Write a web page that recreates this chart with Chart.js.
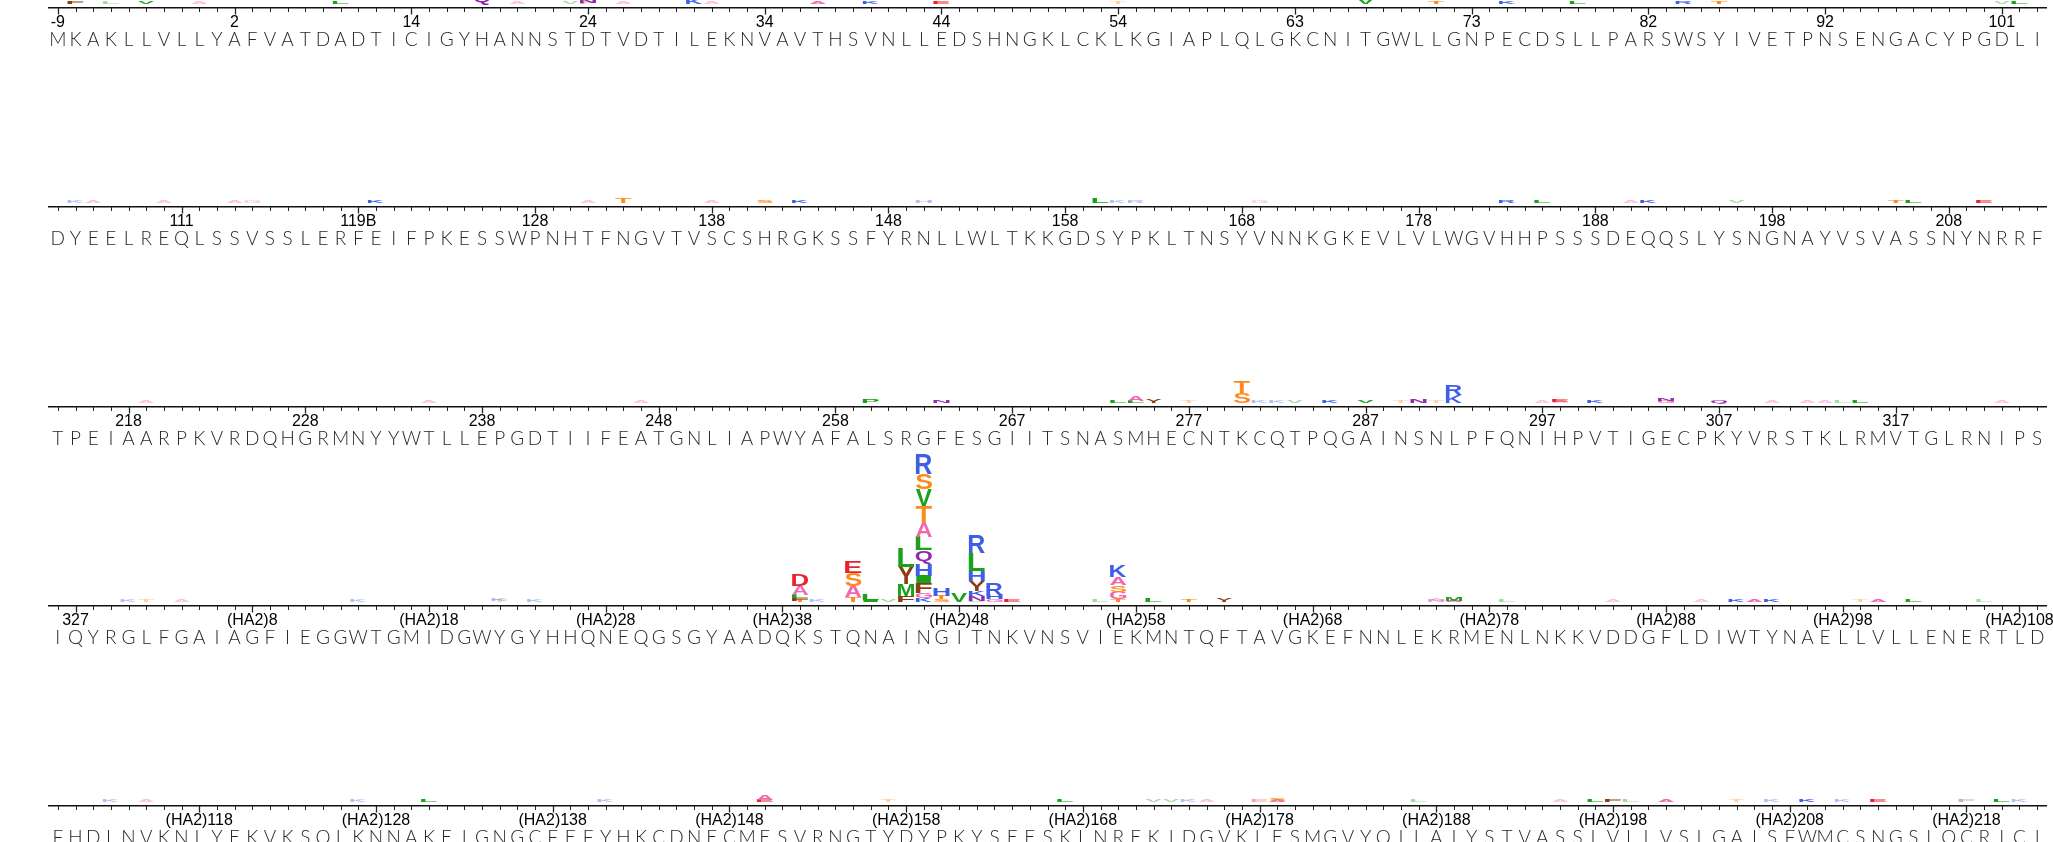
<!DOCTYPE html>
<html>
<head>
<meta charset="utf-8">
<script src="https://cdn.jsdelivr.net/npm/chart.js@4.4.1/dist/chart.umd.min.js"></script>
<style>
  html, body { margin: 0; padding: 0; background: #ffffff; width: 2053px; height: 842px; overflow: hidden; }
  .row { position: absolute; left: 0; width: 2053px; height: 215px; }
  canvas { display: block; }
</style>
</head>
<body>
<div id="rows"></div>
<script>
// ---------------- DATA ----------------
// Sequence letters per row (one per position)
const row1Seq = "MKAKLLVLLYAFVATDADTICIGYHANNSTDTVDTILEKNVAVTHSVNLLEDSHNGKLCKLKGIAPLQLGKCNITGWLLGNPECDSLLPARSWSYIVETPNSENGACYPGDLI";
const row2Seq = "DYEELREQLSSVSSLERFEIFPKESSWPNHTFNGVTVSCSHRGKSSFYRNLLWLTKKGDSYPKLTNSYVNNKGKEVLVLWGVHHPSSSDEQQSLYSNGNAYVSVASSNYNRRF";
const row3Seq = "TPEIAARPKVRDQHGRMNYYWTLLEPGDTIIFEATGNLIAPWYAFALSRGFESGIITSNASMHECNTKCQTPQGAINSNLPFQNIHPVTIGECPKYVRSTKLRMVTGLRNIPS";
const row4Seq = "IQYRGLFGAIAGFIEGGWTGMIDGWYGYHHQNEQGSGYAADQKSTQNAINGITNKVNSVIEKMNTQFTAVGKEFNNLEKRMENLNKKVDDGFLDIWTYNAELLVLLENERTLD";
const row5Seq = "FHDLNVKNLYEKVKSQLKNNAKEIGNGCFEFYHKCDNECMESVRNGTYDYPKYSEESKLNREKIDGVKLESMGVYQILAIYSTVASSLVLLVSLGAISFWMCSNGSLQCRICI";

// Numbering tick labels: [position index, label]
const row1Ticks = [[0,"-9"],[10,"2"],[20,"14"],[30,"24"],[40,"34"],[50,"44"],[60,"54"],[70,"63"],[80,"73"],[90,"82"],[100,"92"],[110,"101"]];
const row2Ticks = [[7,"111"],[17,"119B"],[27,"128"],[37,"138"],[47,"148"],[57,"158"],[67,"168"],[77,"178"],[87,"188"],[97,"198"],[107,"208"]];
const row3Ticks = [[4,"218"],[14,"228"],[24,"238"],[34,"248"],[44,"258"],[54,"267"],[64,"277"],[74,"287"],[84,"297"],[94,"307"],[104,"317"]];
const row4Ticks = [[1,"327"],[11,"(HA2)8"],[21,"(HA2)18"],[31,"(HA2)28"],[41,"(HA2)38"],[51,"(HA2)48"],[61,"(HA2)58"],[71,"(HA2)68"],[81,"(HA2)78"],[91,"(HA2)88"],[101,"(HA2)98"],[111,"(HA2)108"]];
const row5Ticks = [[8,"(HA2)118"],[18,"(HA2)128"],[28,"(HA2)138"],[38,"(HA2)148"],[48,"(HA2)158"],[58,"(HA2)168"],[68,"(HA2)178"],[78,"(HA2)188"],[88,"(HA2)198"],[98,"(HA2)208"],[108,"(HA2)218"]];

// Logo stacks: [position index, letters bottom->top, heights in bits]
const row1Logo = [
  [1,"F",[0.08]],[3,"L",[0.03]],[5,"V",[0.04]],[8,"A",[0.03]],[16,"L",[0.04]],[24,"Q",[0.30]],
  [26,"A",[0.03]],[29,"V",[0.03]],[30,"FN",[0.03,0.10]],[32,"A",[0.03]],[36,"K",[0.12]],[37,"A",[0.03]],
  [43,"A",[0.04]],[46,"K",[0.05]],[50,"E",[0.04]],[60,"T",[0.03]],[74,"V",[0.12]],[78,"T",[0.04]],
  [82,"K",[0.05]],[86,"L",[0.04]],[92,"R",[0.04]],[94,"T",[0.04]],[110,"V",[0.03]],[111,"L",[0.05]]
];
const row2Logo = [
  [1,"K",[0.03]],[2,"A",[0.03]],[6,"A",[0.03]],[10,"A",[0.03]],[11,"G",[0.03]],[18,"K",[0.06]],
  [30,"A",[0.03]],[32,"T",[0.13]],[37,"A",[0.03]],[40,"S",[0.05]],[42,"K",[0.04]],[49,"H",[0.03]],
  [59,"L",[0.14]],[60,"K",[0.03]],[61,"R",[0.03]],[68,"G",[0.03]],[82,"R",[0.04]],[84,"L",[0.04]],
  [89,"A",[0.03]],[90,"K",[0.08]],[95,"V",[0.03]],[104,"T",[0.06]],[105,"L",[0.04]],[109,"E",[0.04]]
];
const row3Logo = [
  [5,"A",[0.03]],[21,"A",[0.02]],[33,"A",[0.02]],[46,"P",[0.09]],[50,"N",[0.08]],[60,"L",[0.06]],
  [61,"LA",[0.07,0.12]],[62,"Y",[0.10]],[64,"T",[0.03]],[67,"ST",[0.27,0.31]],[68,"K",[0.02]],
  [69,"K",[0.02]],[70,"V",[0.02]],[72,"K",[0.04]],[74,"V",[0.06]],[76,"T",[0.01]],[77,"N",[0.10]],
  [78,"T",[0.02]],[79,"KR",[0.22,0.27]],[84,"A",[0.03]],[85,"AE",[0.03,0.05]],[87,"K",[0.05]],
  [91,"GN",[0.06,0.07]],[94,"Q",[0.07]],[97,"A",[0.02]],[99,"A",[0.02]],[100,"A",[0.02]],
  [101,"L",[0.03]],[102,"L",[0.04]],[110,"A",[0.03]]
];
const row4Logo = [
  [4,"K",[0.03]],[5,"T",[0.03]],[7,"A",[0.03]],[17,"K",[0.03]],[25,"TK",[0.02,0.03]],[27,"K",[0.03]],
  [42,"TFLAD",[0.04,0.07,0.09,0.24,0.29]],
  [43,"K",[0.03]],
  [45,"TASE",[0.13,0.31,0.33,0.31]],
  [46,"IL",[0.06,0.16]],
  [47,"V",[0.03]],
  [48,"FMYL",[0.17,0.32,0.46,0.52]],
  [49,"KGFIHQLATVSR",[0.10,0.13,0.28,0.20,0.31,0.36,0.36,0.36,0.46,0.44,0.43,0.53]],
  [50,"STH",[0.08,0.09,0.22]],
  [51,"V",[0.22]],
  [52,"LNKYHLR",[0.03,0.13,0.13,0.27,0.27,0.49,0.49]],
  [53,"GHR",[0.08,0.12,0.29]],
  [54,"E",[0.04]],
  [59,"L",[0.03]],
  [60,"TGSAK",[0.08,0.20,0.18,0.22,0.31]],
  [62,"L",[0.10]],[64,"T",[0.05]],[66,"Y",[0.10]],[78,"NA",[0.02,0.02]],[79,"AM",[0.04,0.10]],
  [82,"L",[0.02]],[88,"A",[0.02]],[93,"A",[0.02]],[95,"K",[0.05]],[96,"A",[0.04]],[97,"K",[0.05]],
  [102,"T",[0.03]],[103,"A",[0.04]],[105,"L",[0.05]],[109,"L",[0.03]]
];
const row5Logo = [
  [3,"K",[0.02]],[5,"A",[0.02]],[17,"K",[0.02]],[21,"L",[0.05]],[31,"K",[0.03]],[40,"EA",[0.07,0.12]],
  [47,"T",[0.03]],[57,"L",[0.05]],[62,"V",[0.02]],[63,"V",[0.02]],[64,"K",[0.02]],[65,"A",[0.02]],
  [68,"E",[0.03]],[69,"AS",[0.04,0.06]],[77,"L",[0.03]],[85,"A",[0.03]],[87,"L",[0.04]],[88,"F",[0.05]],
  [89,"L",[0.02]],[91,"A",[0.04]],[95,"T",[0.02]],[97,"K",[0.02]],[99,"K",[0.04]],[101,"K",[0.03]],
  [103,"E",[0.05]],[108,"F",[0.03]],[110,"L",[0.05]],[111,"K",[0.03]]
];

// ---------------- STYLE ----------------
const AA_COLORS = {
  R:"#3d5ee6", K:"#3d5ee6", H:"#3d5ee6",
  D:"#e8222b", E:"#e8222b",
  S:"#ff8a1c", T:"#ff8a1c",
  A:"#f265b0", G:"#f265b0", C:"#f265b0",
  L:"#1aa31a", V:"#1aa31a", I:"#1aa31a", M:"#1aa31a", P:"#1aa31a",
  N:"#8e2bad", Q:"#8e2bad",
  F:"#8b3c12", Y:"#8b3c12", W:"#8b3c12"
};
const ROW_SPACING = 199.4;
const FIRST_AXIS_Y = 8;
const CANVAS_H = 215;
const BOTTOM_PAD = 7;
const AXIS_IN_CANVAS = 167;

const rows = [
  [row1Seq, row1Ticks, row1Logo],
  [row2Seq, row2Ticks, row2Logo],
  [row3Seq, row3Ticks, row3Logo],
  [row4Seq, row4Ticks, row4Logo],
  [row5Seq, row5Ticks, row5Logo]
];

const glyphCache = {};
function glyphMetrics(ctx, letter) {
  if (glyphCache[letter]) return glyphCache[letter];
  ctx.save();
  ctx.font = 'bold 100px "Liberation Sans", Arial, sans-serif';
  const m = ctx.measureText(letter);
  ctx.restore();
  const g = {
    left: m.actualBoundingBoxLeft, w: m.actualBoundingBoxLeft + m.actualBoundingBoxRight,
    asc: m.actualBoundingBoxAscent, h: m.actualBoundingBoxAscent + m.actualBoundingBoxDescent
  };
  glyphCache[letter] = g;
  return g;
}

const logoPlugin = {
  id: 'logoLetters',
  afterDatasetsDraw(chart) {
    const ctx = chart.ctx;
    chart.data.datasets.forEach((ds, d) => {
      const meta = chart.getDatasetMeta(d);
      meta.data.forEach((el, i) => {
        const v = ds.data[i];
        const letter = ds.letters[i];
        if (!v || !letter) return;
        const p = el.getProps(['x', 'y', 'base', 'width'], true);
        const top = Math.min(p.y, p.base);
        let h = Math.abs(p.base - p.y);
        let y0 = top;
        if (h < 2) { y0 = top - (2 - h); h = 2; }
        const w = p.width;
        const g = glyphMetrics(ctx, letter);
        ctx.save();
        ctx.globalAlpha = v < 0.035 ? 0.4 : 1;
        ctx.fillStyle = AA_COLORS[letter] || '#333';
        ctx.font = 'bold 100px "Liberation Sans", Arial, sans-serif';
        ctx.textBaseline = 'alphabetic';
        ctx.textAlign = 'left';
        ctx.translate(p.x - w / 2, y0);
        ctx.scale(w / g.w, h / g.h);
        ctx.fillText(letter, g.left, g.asc);
        ctx.restore();
      });
    });
  }
};

// Tick marks: long at numbered positions, short elsewhere
const tickMarkPlugin = {
  id: 'tickMarks',
  afterDraw(chart) {
    const sx = chart.scales.x;
    const labels = sx.options.labels;
    const ctx = chart.ctx;
    ctx.save();
    ctx.strokeStyle = '#222';
    for (let i = 0; i < labels.length; i++) {
      const major = !!labels[i];
      const px = Math.round(sx.getPixelForTick(i)) + 0.5;
      ctx.lineWidth = major ? 1.3 : 1;
      ctx.beginPath();
      ctx.moveTo(px, sx.top);
      ctx.lineTo(px, sx.top + (major ? 6.5 : 4));
      ctx.stroke();
    }
    ctx.restore();
  }
};

const container = document.getElementById('rows');
rows.forEach(([seq, ticks, logo], k) => {
  const n = seq.length;
  const tickArr = new Array(n).fill('');
  ticks.forEach(([i, t]) => { tickArr[i] = t; });
  const depth = Math.max(...logo.map(s => s[1].length));
  const datasets = [];
  for (let d = 0; d < depth; d++) {
    const data = new Array(n).fill(null);
    const letters = new Array(n).fill('');
    logo.forEach(([i, ls, hs]) => {
      if (d < ls.length) { data[i] = hs[d]; letters[i] = ls[d]; }
    });
    datasets.push({
      label: 'layer ' + (d + 1), data, letters,
      backgroundColor: 'rgba(0,0,0,0)', borderWidth: 0,
      barPercentage: 0.92, categoryPercentage: 1, stack: 'logo'
    });
  }
  const div = document.createElement('div');
  div.className = 'row';
  const axisY = FIRST_AXIS_Y + ROW_SPACING * k;
  div.style.top = (axisY - AXIS_IN_CANVAS) + 'px';
  const cv = document.createElement('canvas');
  cv.width = 2053; cv.height = CANVAS_H;
  div.appendChild(cv);
  container.appendChild(div);

  new Chart(cv, {
    type: 'bar',
    data: { labels: tickArr, datasets },
    options: {
      responsive: false, animation: false, devicePixelRatio: 1,
      layout: { padding: { left: 49, right: 7, top: 0, bottom: BOTTOM_PAD } },
      plugins: { legend: { display: false }, tooltip: { enabled: false } },
      scales: {
        x: {
          type: 'category', labels: tickArr, offset: true, stacked: true,
          position: 'bottom', weight: 0,
          grid: {
            display: true, drawOnChartArea: false, drawTicks: true, tickLength: 8,
            tickColor: 'rgba(0,0,0,0)'
          },
          border: { display: true, color: '#111', width: 1.5 },
          ticks: {
            autoSkip: false, maxRotation: 0, minRotation: 0, padding: 0, color: '#000',
            font: { family: '"Liberation Sans Narrow", "Liberation Sans", Arial, sans-serif', size: 16, lineHeight: 0.875 }
          }
        },
        seq: {
          type: 'category', labels: seq.split(''), offset: true,
          position: 'bottom', weight: 1,
          grid: { display: false, drawTicks: false },
          border: { display: false },
          ticks: {
            autoSkip: false, maxRotation: 0, minRotation: 0, padding: 0, color: '#262626',
            font: { family: 'Lato, "Open Sans", sans-serif', size: 19, weight: '300', lineHeight: 1 }
          }
        },
        y: { display: false, stacked: true, min: -0.1, max: 4.35 }
      }
    },
    plugins: [logoPlugin, tickMarkPlugin]
  });
});
</script>
</body>
</html>
